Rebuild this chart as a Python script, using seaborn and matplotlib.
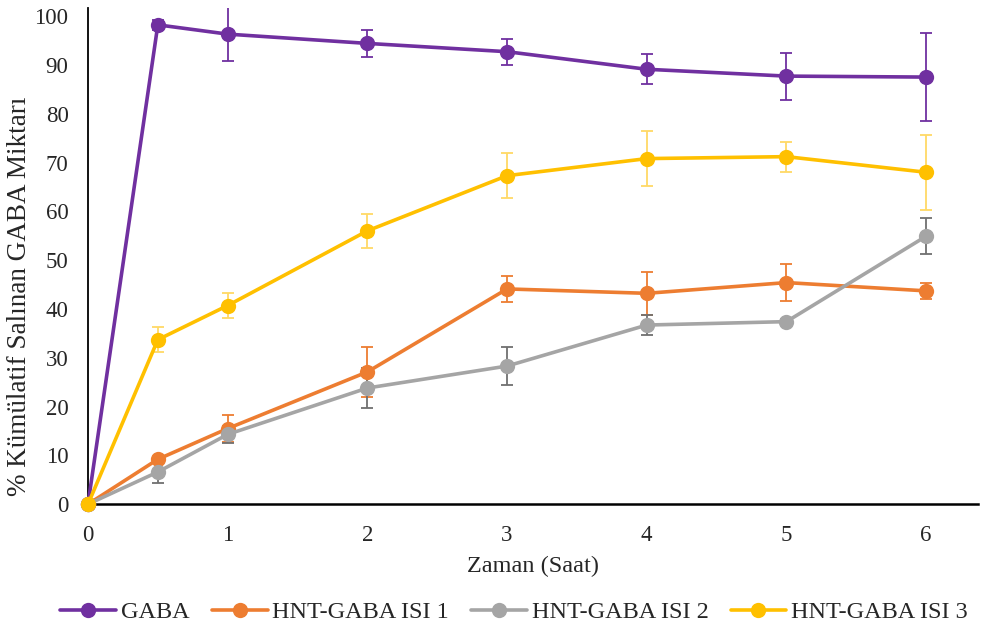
import numpy as np
import pandas as pd
import matplotlib
matplotlib.use("Agg")
import matplotlib.pyplot as plt
import seaborn as sns

# time points (hours)
times = [0, 0.5, 1, 2, 3, 4, 5, 6]

series_names = ["GABA", "HNT-GABA ISI 1", "HNT-GABA ISI 2", "HNT-GABA ISI 3"]

gaba = [0, 98.2, 96.3, 94.4, 92.7, 89.1, 87.7, 87.5]
gaba_err = [0, 1.0, 5.5, 2.7, 2.65, 3.1, 4.8, 9.0]

isi1 = [0, 9.2, 15.5, 27.1, 44.1, 43.2, 45.4, 43.7]
isi1_err = [0, 0.5, 2.8, 5.1, 2.6, 4.4, 3.75, 1.7]

isi2 = [0, 6.6, 14.3, 23.8, 28.3, 36.7, 37.4, 54.9]
isi2_err = [0, 2.2, 1.8, 4.1, 3.85, 2.05, 0.5, 3.7]

isi3 = [0, 33.7, 40.7, 56.0, 67.3, 70.8, 71.2, 68.0]
isi3_err = [0, 2.5, 2.5, 3.5, 4.6, 5.7, 3.1, 7.7]

line_colors = ["#7030A0", "#ED7D31", "#A5A5A5", "#FFC000"]
err_colors = ["#7030A0", "#ED7D31", "#707070", "#FFD966"]

values = [gaba, isi1, isi2, isi3]
errors = [gaba_err, isi1_err, isi2_err, isi3_err]

df = pd.concat([
    pd.DataFrame({"Zaman": times, "Deger": v, "Seri": name})
    for name, v in zip(series_names, values)
])

sns.set_style("white")
plt.rcParams["font.family"] = ["Liberation Serif", "DejaVu Serif"]

fig = plt.figure(figsize=(9.92, 6.35), dpi=100)
ax = fig.add_axes([0.0887, 0.206, 0.897, 0.781])

# error bars behind the lines
for v, e, c in zip(values, errors, err_colors):
    ax.errorbar(times, v, yerr=e, fmt="none", ecolor=c, elinewidth=1.3,
                capsize=4.5, capthick=1.3, zorder=1)

sns.lineplot(data=df, x="Zaman", y="Deger", hue="Seri", hue_order=series_names,
             palette=line_colors, marker="o", markersize=11, markeredgewidth=0,
             linewidth=2.6, ax=ax, legend=False, zorder=3, clip_on=False)

ax.set_xlim(0, 6.37)
ax.set_ylim(0, 101.6)
ax.set_xticks(range(0, 7))
ax.set_yticks(range(0, 101, 10))
ax.tick_params(axis="both", length=0, labelsize=16.5)
ax.tick_params(axis="x", pad=15)
ax.tick_params(axis="y", pad=14)
ax.set_xlabel("Zaman (Saat)", fontsize=17.5, labelpad=7)
ax.set_ylabel("% Kümülatif Salınan GABA Miktarı", fontsize=19.5)
ax.yaxis.set_label_coords(-0.063, 0.42)

for s in ["top", "right"]:
    ax.spines[s].set_visible(False)
ax.spines["left"].set_color("black")
ax.spines["left"].set_linewidth(1.3)
ax.spines["bottom"].set_color("black")
ax.spines["bottom"].set_linewidth(1.8)

handles = [plt.Line2D([], [], color=c, marker="o", markersize=11, markeredgewidth=0,
                      linewidth=2.6) for c in line_colors]
ax.legend(handles, series_names, loc="center", bbox_to_anchor=(0.479, -0.218),
          ncol=4, frameon=False, fontsize=17.5, handlelength=2.3, handletextpad=0.2,
          columnspacing=0.9)

fig.savefig("out.png", dpi=100)
